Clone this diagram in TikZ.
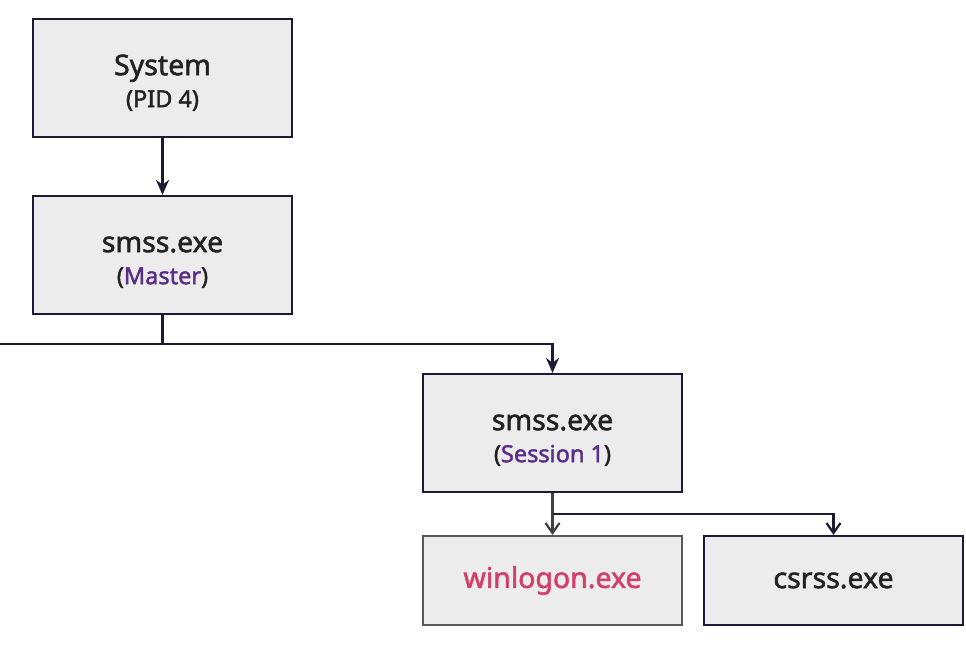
\documentclass[tikz,border=0pt]{standalone}
\usepackage{fontspec}
\setmainfont{Noto Sans}[FakeBold=1.8]
\usetikzlibrary{arrows.meta}
\definecolor{boxfill}{HTML}{ECECEC}
\definecolor{edge}{HTML}{1C1B33}
\definecolor{txt}{HTML}{222222}
\definecolor{purp}{HTML}{5A2D86}
\definecolor{pinkred}{HTML}{D23F68}
\tikzset{
  proc/.style={draw=edge, line width=2.2pt, fill=boxfill, minimum width=259pt, align=center, text=txt, inner sep=0pt},
  tall/.style={proc, minimum height=118pt},
  short/.style={proc, minimum height=89pt},
  conn/.style={draw=edge, line width=2.2pt},
  filledtip/.style={-{Stealth[length=15pt,width=13pt]}},
  opentip/.style={-{Straight Barb[length=10pt,width=14pt]}},
  big/.style={font=\fontsize{28.5}{34}\selectfont},
}
\newcommand{\sm}[1]{{\fontsize{23.5}{34}\selectfont #1}}
\newcommand{\tallstrut}{\rule{0pt}{30pt}}
\begin{document}
\begin{tikzpicture}[x=1pt,y=-1pt]
\fill[white] (0,0) rectangle (966,654);
\useasboundingbox (0,0) rectangle (966,654);
\node[tall, big] (sys) at (162.5,78) {\tallstrut System\\[-2pt]\sm{(PID 4)}};
\node[tall, big] (master) at (162.5,255) {\tallstrut smss.exe\\[-2pt]\sm{(\textcolor{purp}{Master})}};
\node[tall, big] (sess) at (552.5,433) {\tallstrut smss.exe\\[-2pt]\sm{(\textcolor{purp}{Session 1})}};
\node[short, big, draw=black!65, text=pinkred] (win) at (552.5,580.5) {winlogon.exe};
\node[short, big] (csr) at (833.5,580.5) {csrss.exe};
\coordinate (left) at (0,344);
\coordinate (junc) at (master.south |- left);
\coordinate (br) at (sess.south |- 0,514);
\draw[conn, filledtip] (sys) -- (master);
\draw[conn] (master.south) -- (junc);
\draw[conn] (left) -- (junc);
\draw[conn, filledtip] (junc) -| (sess.north);
\draw[conn, opentip, draw=black!75] (sess.south) -- (win.north);
\draw[conn, opentip] (br) -| (csr.north);
\end{tikzpicture}
\end{document}
